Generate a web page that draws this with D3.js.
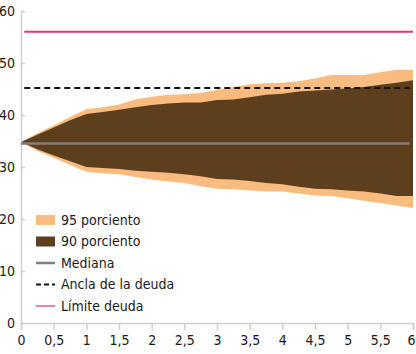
<!DOCTYPE html>
<html>
<head>
<meta charset="utf-8">
<script src="https://cdn.jsdelivr.net/npm/d3@7"></script>
<style>
  body { margin: 0; background: #fff; }
  text { font-family: "Liberation Sans Narrow", "DejaVu Sans Condensed", "Roboto", sans-serif; fill: #1a1a1a; }
</style>
</head>
<body>
<script>
// horizon in years, quarterly steps
const years = d3.range(0, 6.01, 0.25);
const upper95 = [34.8, 36.5, 38.0, 39.6, 41.1, 41.5, 42.0, 43.0, 43.5, 43.9, 44.0, 44.3, 44.8,
  45.4, 45.9, 46.1, 46.2, 46.5, 47.0, 47.7, 47.7, 47.7, 48.2, 48.7, 48.7];
const upper90 = [34.8, 36.2, 37.6, 39.0, 40.2, 40.6, 41.0, 41.5, 41.9, 42.2, 42.4, 42.4, 42.9,
  43.0, 43.4, 43.9, 44.1, 44.5, 44.7, 44.9, 45.1, 45.4, 45.8, 46.2, 46.7];
const lower90 = [34.8, 33.4, 32.2, 31.1, 30.0, 29.8, 29.6, 29.3, 29.1, 28.9, 28.6, 28.2, 27.7,
  27.6, 27.3, 26.9, 26.7, 26.2, 25.8, 25.7, 25.5, 25.3, 24.9, 24.4, 24.4];
const lower95 = [34.8, 33.1, 31.8, 30.4, 29.1, 28.8, 28.6, 28.1, 27.6, 27.2, 26.9, 26.3, 25.8,
  25.7, 25.5, 25.3, 25.3, 24.9, 24.5, 24.4, 24.0, 23.5, 23.1, 22.6, 22.1];
const median = 34.5;
const anchor = 45.2;
const limit = 56;
const xTicks = [0, 0.5, 1, 1.5, 2, 2.5, 3, 3.5, 4, 4.5, 5, 5.5, 6];
const yTicks = [0, 10, 20, 30, 40, 50, 60];
const legendLabels = ['95 porciento', '90 porciento', 'Mediana', 'Ancla de la deuda', 'Límite deuda'];

const width = 416, height = 354;
const x = d3.scaleLinear().domain([0, 6]).range([21, 413]);
const y = d3.scaleLinear().domain([0, 60]).range([323, 11]);

const svg = d3.select('body').append('svg')
  .attr('width', width)
  .attr('height', height);

const rows = years.map((t, i) => ({t, u95: upper95[i], u90: upper90[i], l90: lower90[i], l95: lower95[i]}));

const band = (lo, hi) => d3.area()
  .x(d => x(d.t))
  .y0(d => y(d[lo]))
  .y1(d => y(d[hi]));

svg.append('path').datum(rows)
  .attr('d', band('l95', 'u95'))
  .attr('fill', '#f9bc7e');

svg.append('path').datum(rows)
  .attr('d', band('l90', 'u90'))
  .attr('fill', '#5e3f1d');

// axes
const xAxis = svg.append('g')
  .attr('transform', `translate(0,${y(0)})`)
  .call(d3.axisBottom(x).tickValues(xTicks).tickSize(7).tickPadding(5)
    .tickFormat(d => String(d).replace('.', ',')));
xAxis.select('.domain').attr('stroke', '#cfcfcf').attr('stroke-width', 1.5);
xAxis.selectAll('line').attr('stroke', '#cfcfcf').attr('stroke-width', 1.5);
xAxis.selectAll('text').attr('font-size', 14).attr('fill', '#1a1a1a');
// keep the last label inside the frame
xAxis.selectAll('.tick').filter(d => d === 6).select('text').attr('x', -2);

const yAxis = svg.append('g')
  .attr('transform', `translate(${x(0)},0)`)
  .call(d3.axisRight(y).tickValues(yTicks).tickSize(4).tickSizeOuter(0));
yAxis.select('.domain').attr('stroke', '#cfcfcf').attr('stroke-width', 1.5);
yAxis.selectAll('line').attr('stroke', '#cfcfcf').attr('stroke-width', 1.5);
yAxis.selectAll('text')
  .attr('x', -6)
  .attr('text-anchor', 'end')
  .attr('font-size', 14)
  .attr('fill', '#1a1a1a');

// reference lines
svg.append('line')
  .attr('x1', x(0)).attr('x2', x(5.95))
  .attr('y1', y(median)).attr('y2', y(median))
  .attr('stroke', '#7f7f7f').attr('stroke-width', 2.5);

svg.append('line')
  .attr('x1', x(0.05)).attr('x2', x(5.95))
  .attr('y1', y(anchor)).attr('y2', y(anchor))
  .attr('stroke', '#111').attr('stroke-width', 2)
  .attr('stroke-dasharray', '6,4');

svg.append('line')
  .attr('x1', x(0.05)).attr('x2', x(6))
  .attr('y1', y(limit)).attr('y2', y(limit))
  .attr('stroke', '#e5336f').attr('stroke-width', 2);

// legend
const legend = svg.append('g').attr('transform', 'translate(36,220)');
const styles = [
  {type: 'rect', fill: '#f9bc7e'},
  {type: 'rect', fill: '#5e3f1d'},
  {type: 'line', stroke: '#7f7f7f', w: 2.5},
  {type: 'line', stroke: '#111', w: 2, dash: '5,3'},
  {type: 'line', stroke: '#e5336f', w: 1.2}
];
legendLabels.forEach((label, i) => {
  const g = legend.append('g').attr('transform', `translate(0,${i * 21.5})`);
  const s = styles[i];
  if (s.type === 'rect') {
    g.append('rect').attr('x', 0).attr('y', -5).attr('width', 19).attr('height', 10).attr('fill', s.fill);
  } else {
    g.append('line').attr('x1', 0).attr('x2', 19).attr('y1', 0).attr('y2', 0)
      .attr('stroke', s.stroke).attr('stroke-width', s.w)
      .attr('stroke-dasharray', s.dash || null);
  }
  g.append('text').attr('x', 25).attr('y', 0).attr('dy', '0.35em')
    .attr('font-size', 14).text(label);
});
</script>
</body>
</html>
